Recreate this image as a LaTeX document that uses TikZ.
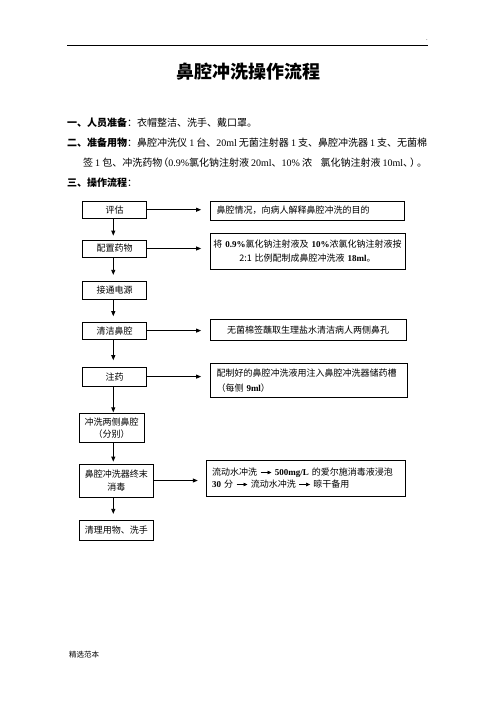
\documentclass[tikz,border=0pt]{standalone}
\usepackage{fontspec}
\setmainfont{Noto Sans CJK SC}
\newfontfamily\latf{Liberation Serif}
\usetikzlibrary{arrows.meta}
\newcommand\lat[1]{{\latf #1}}
\newcommand\latb[1]{{\latf\bfseries #1}}
\newcommand\gsp{\hspace{2.5pt plus 3pt minus 2pt}}
\newcommand\inarr{\tikz[baseline=-0.6ex]\draw[line width=0.6pt,-{Triangle[length=4pt,width=3.5pt]}] (0,0)--(11pt,0);}
\newcommand\bodyfs{\fontsize{10}{12}\selectfont}
\newcommand\flowfs{\fontsize{9}{12}\selectfont}
\begin{document}
\begin{tikzpicture}[x=1pt,y=-1pt,
  box/.style={draw,line width=0.8pt,inner sep=0pt,align=center,font=\flowfs},
  rbox/.style={draw,line width=0.8pt,inner ysep=0pt,inner xsep=6.5pt,font=\flowfs},
  arr/.style={line width=0.8pt,-{Triangle[length=5pt,width=4pt]}},
  txt/.style={anchor=west,inner sep=0pt,font=\bodyfs}]
\useasboundingbox (0,0) rectangle (496,702);
\fill[white] (0,0) rectangle (496,702);
% header
\coordinate (hl) at (67,45);
\coordinate (hr) at (428,45);
\draw[line width=0.8pt] (hl) -- (hr);
\node[inner sep=0pt,font=\fontsize{6}{6}\selectfont] (dot) at (427,40) {.};
% title
\node[inner sep=0pt,font=\bfseries\fontsize{18}{20}\selectfont] (title) at (248,72) {鼻腔冲洗操作流程};
% body text
\node[txt] (s1) at (67,123) {\textbf{一、人员准备}：衣帽整洁、洗手、戴口罩。};
\node[txt] (s2) at (67,143) {\makebox[360pt][s]{\textbf{二、准备用物}：鼻腔冲洗仪\gsp\lat{1}\gsp 台、\lat{20ml}\gsp 无菌注射器\gsp\lat{1}\gsp 支、鼻腔冲洗器\gsp\lat{1}\gsp 支、无菌棉}};
\node[txt] (s3) at (83,163) {\makebox[344pt][s]{签\gsp\lat{1}\gsp 包、冲洗药物\hspace{-4pt}（\lat{0.9\%}氯化钠注射液\gsp\lat{20ml}、\lat{10\%}\gsp 浓\hspace{10pt plus 2pt minus 6pt}氯化钠注射液\gsp\lat{10ml}、\hspace{-3pt}）\hspace{-3pt}。}};
\node[txt] (s4) at (67,183) {\textbf{三、操作流程}：};
% left column
\node[box,minimum width=64pt,minimum height=17.5pt] (L1) at (114.7,209.7) {评估};
\node[box,minimum width=64pt,minimum height=17pt] (L2) at (114.7,248.5) {配置药物};
\node[box,minimum width=64pt,minimum height=17.5pt] (L3) at (114.7,290.5) {接通电源};
\node[box,minimum width=64pt,minimum height=17pt] (L4) at (114.7,330.6) {清洁鼻腔};
\node[box,minimum width=64pt,minimum height=19pt] (L5) at (114.7,376.6) {注药};
\node[box,minimum width=64.7pt,minimum height=29.5pt,font=\fontsize{9}{11.7}\selectfont] (L6) at (111.7,428) {冲洗两侧鼻腔\\（分别）};
\node[box,minimum width=74pt,minimum height=33pt,font=\fontsize{9}{13.3}\selectfont] (L7) at (116.3,480.5) {鼻腔冲洗器终末\\消毒};
\node[box,minimum width=74pt,minimum height=19.5pt] (L8) at (116.3,530.5) {清理用物、洗手};
% right column
\node[rbox,text width=181pt,minimum height=19pt,align=left] (R1) at (307,210.5) {鼻腔情况，向病人解释鼻腔冲洗的目的};
\node[rbox,inner xsep=2.5pt,text width=190pt,minimum height=35.5pt,align=center,font=\fontsize{9}{14}\selectfont] (R2) at (307.5,251.3) {将 \latb{0.9\%}氯化钠注射液及 \latb{10\%}浓氯化钠注射液按\\2:1 比例配制成鼻腔冲洗液 \latb{18ml}。};
\node[rbox,text width=183pt,minimum height=20.5pt,align=center] (R3) at (308,329.8) {无菌棉签蘸取生理盐水清洁病人两侧鼻孔};
\node[rbox,text width=184pt,minimum height=34pt,align=left,font=\fontsize{9}{15}\selectfont] (R4) at (308.5,380.3) {配制好的鼻腔冲洗液用注入鼻腔冲洗器储药槽\\（每侧 \latb{9ml}）};
\node[rbox,inner xsep=5.5pt,text width=188pt,minimum height=36pt,align=left,font=\fontsize{9}{12}\selectfont] (R5) at (306.2,478) {流动水冲洗 \inarr\ \latb{500mg/L} 的爱尔施消毒液浸泡\\\latb{30} 分 \inarr\ 流动水冲洗 \inarr\ 晾干备用};
% down arrows
\coordinate (ax) at (113.3,0);
\draw[arr,shorten >=4pt] (ax |- L1.south) -- (ax |- L2.north);
\draw[arr,shorten >=6.5pt] (ax |- L2.south) -- (ax |- L3.north);
\draw[arr,shorten >=5.5pt] (ax |- L3.south) -- (ax |- L4.north);
\draw[arr,shorten >=6.5pt] (ax |- L4.south) -- (ax |- L5.north);
\draw[arr,shorten >=0.5pt] (ax |- L5.south) -- (ax |- L6.north);
\draw[arr,shorten >=2pt] (ax |- L6.south) -- (ax |- L7.north);
\draw[arr,shorten >=6.5pt] (ax |- L7.south) -- (ax |- L8.north);
% right arrows
\draw[arr,shorten >=8.5pt] (L1.east) -- (L1.east -| R1.west);
\draw[arr,shorten >=8.5pt] (L2.east) -- (L2.east -| R2.west);
\draw[arr,shorten >=8.5pt] (L4.east) -- (L4.east -| R3.west);
\draw[arr,shorten >=8.5pt] (L5.east) -- (L5.east -| R4.west);
\draw[arr,shorten >=8.5pt] (L7.east) -- (L7.east -| R5.west);
% footer
\node[anchor=west,inner sep=0pt,font=\fontsize{7.5}{9}\selectfont] (foot) at (69,655) {精选范本};
\end{tikzpicture}
\end{document}
